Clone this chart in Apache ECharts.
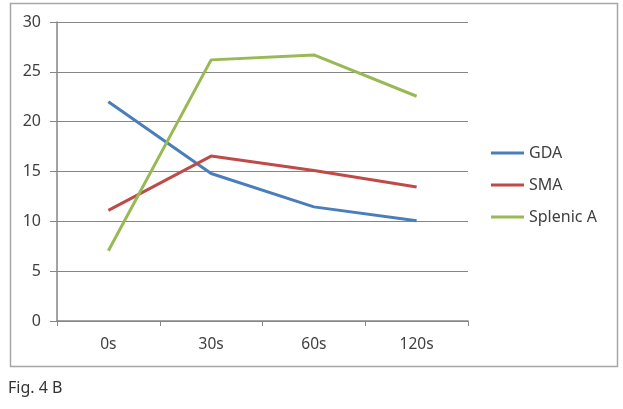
<!DOCTYPE html>
<html><head><meta charset="utf-8">
<script src="https://cdn.jsdelivr.net/npm/echarts@6/dist/echarts.min.js"></script>
<style>html,body{margin:0;padding:0;background:#fff}#c{width:623px;height:409px}</style>
</head><body><div id="c"></div>
<script>
const categories = ['0s', '30s', '60s', '120s'];
const gda = [22.0, 14.8, 11.45, 10.05];
const sma = [11.1, 16.55, 15.1, 13.45];
const splenic = [7.05, 26.2, 26.7, 22.55];
const yTicks = [0, 5, 10, 15, 20, 25, 30];
const seriesNames = ['GDA', 'SMA', 'Splenic A'];
const colors = ['#4a7ebb', '#be4b48', '#98b954'];
const caption = 'Fig. 4 B';

const chart = echarts.init(document.getElementById('c'));
const font = "'Noto Sans', sans-serif";
const mk = (name, data, i) => ({
  name, type: 'line', data, showSymbol: false, symbol: 'none',
  lineStyle: { color: colors[i], width: 3 }, itemStyle: { color: colors[i] },
  animation: false
});
chart.setOption({
  animation: false,
  graphic: [
    { type: 'rect', shape: { x: 10.5, y: 3.5, width: 607, height: 363 },
      style: { fill: 'none', stroke: '#a6a6a6', lineWidth: 1.5 }, z: -1 },
    { type: 'text', left: 8, top: 380,
      style: { text: caption, fontFamily: font, fontSize: 16, fill: '#333' } }
  ],
  grid: { left: 57, top: 22, width: 411, height: 299, containLabel: false },
  xAxis: {
    type: 'category', data: categories, boundaryGap: true,
    axisLine: { lineStyle: { color: '#868686', width: 1.5 } },
    axisTick: { show: true, length: 5, lineStyle: { color: '#868686' } },
    axisLabel: { color: '#404040', fontFamily: font, fontSize: 15.5, margin: 16 }
  },
  yAxis: {
    type: 'value', min: 0, max: 30, interval: 5,
    axisLine: { show: true, lineStyle: { color: '#868686', width: 1.5 } },
    axisTick: { show: true, length: 7, lineStyle: { color: '#868686' } },
    axisLabel: { color: '#404040', fontFamily: font, fontSize: 16, margin: 16,
      formatter: v => yTicks.includes(v) ? String(v) : '' },
    splitLine: { show: true, lineStyle: { color: '#868686', width: 1.2 } }
  },
  legend: {
    orient: 'vertical', left: 491, top: 144, padding: 0, itemWidth: 33, itemHeight: 3,
    itemGap: 14, icon: 'rect', data: seriesNames,
    textStyle: { fontFamily: font, fontSize: 16, color: '#404040', lineHeight: 18 }
  },
  series: [mk(seriesNames[0], gda, 0), mk(seriesNames[1], sma, 1), mk(seriesNames[2], splenic, 2)]
});
</script></body></html>
